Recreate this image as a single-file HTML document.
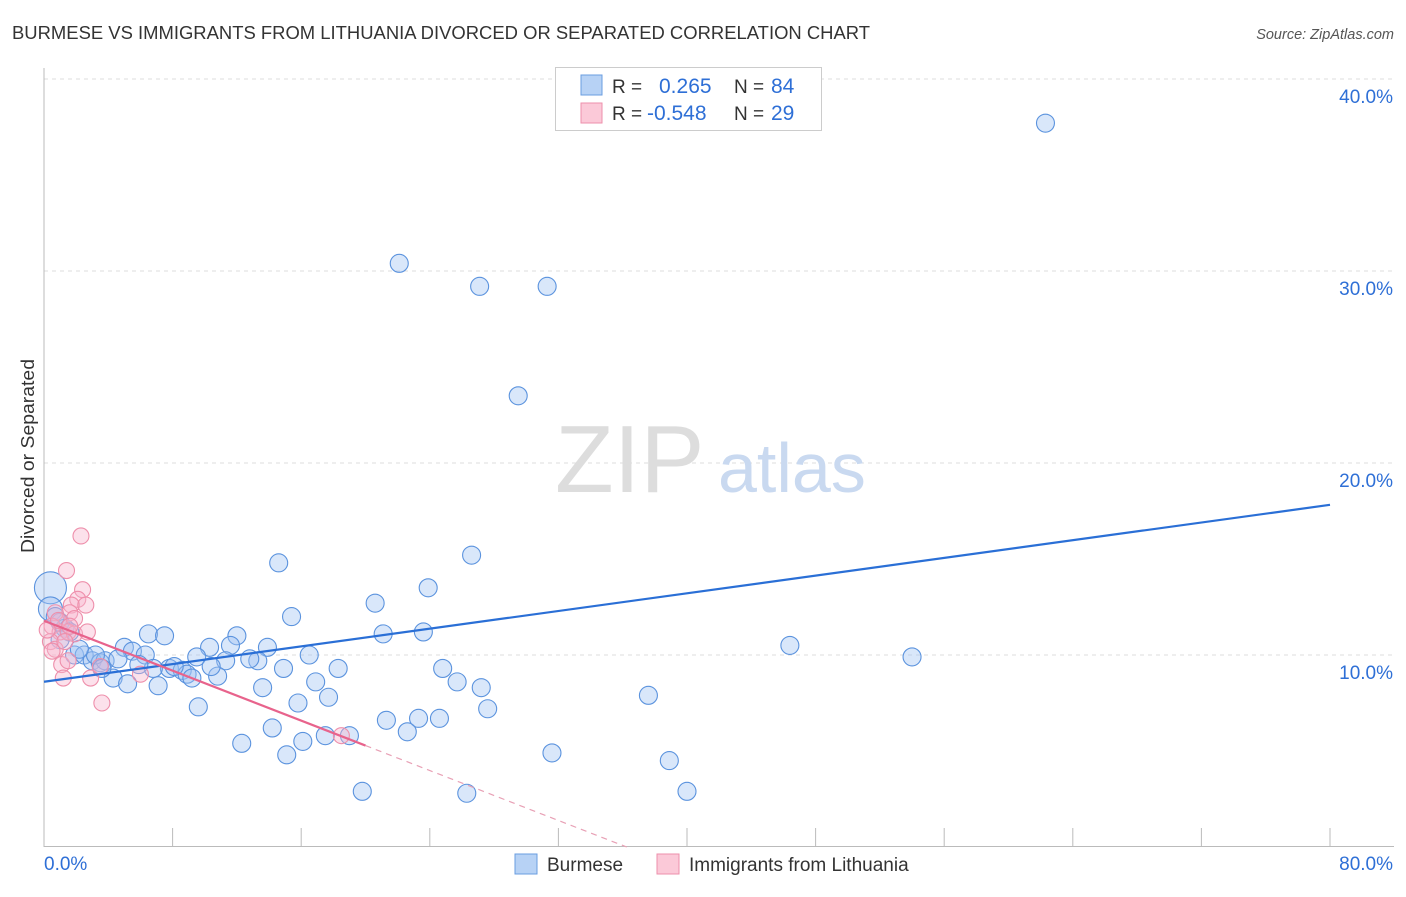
<!DOCTYPE html>
<html><head><meta charset="utf-8"><style>
body{margin:0;background:#fff;font-family:"Liberation Sans",sans-serif;}
svg text{font-family:"Liberation Sans",sans-serif;}
</style></head><body>
<svg id="chart" width="1406" height="892">
<text x="12" y="39" font-size="18" fill="#333" textLength="858" lengthAdjust="spacingAndGlyphs">BURMESE VS IMMIGRANTS FROM LITHUANIA DIVORCED OR SEPARATED CORRELATION CHART</text>
<text x="1394" y="39" font-size="14.5" fill="#555" font-style="italic" text-anchor="end">Source: ZipAtlas.com</text>
<text x="34" y="456" font-size="18" fill="#333" transform="rotate(-90 34 456)" text-anchor="middle" textLength="194" lengthAdjust="spacingAndGlyphs">Divorced or Separated</text>
<g id="grid"></g>
<g id="axes"></g>
<text x="555" y="492" font-size="96" fill="#ddd" font-family="Liberation Serif">ZIP</text>
<text x="718" y="492" font-size="70" fill="#c9d9f0">atlas</text>
<g id="pts"></g>
<g id="lines"></g>
<g>
<rect x="555.5" y="67.5" width="266" height="63" fill="#fff" stroke="#ccc"/>
<rect x="581" y="75" width="21" height="20" fill="#b7d2f5" stroke="#6a9de0"/>
<rect x="581" y="103" width="21" height="20" fill="#fbc9d8" stroke="#ee8fab"/>
<text x="612" y="93" font-size="19" fill="#333">R =</text>
<text x="659" y="93" font-size="21" fill="#2e6fd6">0.265</text>
<text x="734" y="93" font-size="19" fill="#333">N =</text>
<text x="771" y="93" font-size="21" fill="#2e6fd6">84</text>
<text x="612" y="120" font-size="19" fill="#333">R =</text>
<text x="647" y="120" font-size="21" fill="#2e6fd6">-0.548</text>
<text x="734" y="120" font-size="19" fill="#333">N =</text>
<text x="771" y="120" font-size="21" fill="#2e6fd6">29</text>
</g>
<g>
<rect x="515" y="854" width="22" height="20" fill="#b7d2f5" stroke="#6a9de0"/>
<text x="547" y="871" font-size="19" fill="#333">Burmese</text>
<rect x="657" y="854" width="22" height="20" fill="#fbc9d8" stroke="#ee8fab"/>
<text x="689" y="871" font-size="19" fill="#333">Immigrants from Lithuania</text>
</g>
</svg>
<script>
const yTicks=[10,20,30,40];
const yTickLabels=["10.0%","20.0%","30.0%","40.0%"];
const xTickLabels=["0.0%","80.0%"];
const blueX=[62.3,22.1,27.1,31.3,29.5,26.6,14.6,23.9,15.4,20.6,21.1,23.6,46.4,54.0,6.5,7.5,12.0,10.3,13.9,11.6,5.0,5.5,6.3,16.5,13.3,11.3,12.8,9.5,24.8,18.3,14.9,7.8,8.6,8.9,9.2,10.8,10.4,6.8,4.3,5.2,7.1,13.6,16.9,25.7,27.2,17.7,15.8,27.6,37.6,9.6,23.3,24.6,21.3,22.6,14.2,17.5,19.0,12.3,16.1,15.1,31.6,38.9,19.8,26.3,40.0,0.4,0.4,1.0,1.3,1.6,1.9,2.5,3.0,3.5,3.8,4.6,3.2,2.2,1.0,3.6,5.9,8.1,0.7];
const blueY=[37.7,30.4,29.2,29.2,23.5,15.2,14.8,13.5,12.0,12.7,11.1,11.2,10.5,9.9,11.1,11.0,11.0,10.4,10.4,10.5,10.4,10.2,10.0,10.0,9.7,9.7,9.8,9.9,9.3,9.3,9.3,9.3,9.2,9.0,8.8,8.9,9.4,9.3,8.8,8.5,8.4,8.3,8.6,8.6,8.3,7.8,7.5,7.2,7.9,7.3,6.7,6.7,6.6,6.0,6.2,5.8,5.8,5.4,5.5,4.8,4.9,4.5,2.9,2.8,2.9,13.5,12.4,11.7,11.4,11.2,10.0,10.0,9.7,9.6,9.7,9.8,10.0,10.3,10.8,9.3,9.5,9.4,12.0];
const pinkX=[2.3,1.4,2.4,2.1,1.7,1.6,0.7,1.9,0.5,1.0,1.5,0.4,0.7,1.9,1.1,1.5,2.9,1.2,3.6,18.5,6.0,3.5,0.9,0.2,2.6,1.3,1.6,2.7,0.5];
const pinkY=[16.2,14.4,13.4,12.9,12.6,12.2,12.2,11.9,11.5,11.2,11.2,10.7,10.3,11.1,9.5,9.7,8.8,8.8,7.5,5.8,9.0,9.4,11.8,11.3,12.6,10.7,11.5,11.2,10.2];
const X=v=>44+v/80*1286, Y=v=>847-v/40*768;
const NS="http://www.w3.org/2000/svg";
function mk(tag,attrs,parent){const e=document.createElementNS(NS,tag);for(const k in attrs)e.setAttribute(k,attrs[k]);parent.appendChild(e);return e;}
const grid=document.getElementById('grid'),axes=document.getElementById('axes');
yTicks.forEach((t,i)=>{
 const l=mk('line',{x1:44,x2:1394,y1:Y(t),y2:Y(t),stroke:'#ddd','stroke-dasharray':'4,4'},grid);
 
 
 const tx=mk('text',{x:1393,y:Y(t)+24,'font-size':19,fill:'#2e6fd6','text-anchor':'end'},axes);
 tx.textContent=yTickLabels[i];
 
 
});
mk('line',{x1:44,x2:44,y1:68,y2:847,stroke:'#bbb'},axes);
mk('line',{x1:44,x2:1394,y1:846.5,y2:846.5,stroke:'#bbb'},axes);
for(let i=0;i<=10;i++){const x=X(i*8);mk('line',{x1:x,x2:x,y1:828,y2:847,stroke:'#bbb'},axes);}
const xl0=mk('text',{x:44,y:870,'font-size':19,fill:'#2e6fd6'},axes);xl0.textContent=xTickLabels[0];


const xl1=mk('text',{x:1393,y:870,'font-size':19,fill:'#2e6fd6','text-anchor':'end'},axes);xl1.textContent=xTickLabels[1];


const pts=document.getElementById('pts');
blueX.forEach((v,i)=>{
 const r=i===65?16:(i===66?12:9);
 const c=mk('circle',{cx:X(v),cy:Y(blueY[i]),r:r,fill:'rgba(160,196,242,0.4)',stroke:'#5b93de','stroke-width':1.1},pts);
 
 
});
pinkX.forEach((v,i)=>{
 const c=mk('circle',{cx:X(v),cy:Y(pinkY[i]),r:8,fill:'rgba(248,180,204,0.4)',stroke:'#ee8fab','stroke-width':1.1},pts);
 
 
});
function fit(xs,ys){const n=xs.length;const mx=xs.reduce((a,b)=>a+b)/n,my=ys.reduce((a,b)=>a+b)/n;let sxy=0,sxx=0;xs.forEach((x,i)=>{sxy+=(x-mx)*(ys[i]-my);sxx+=(x-mx)**2;});const b=sxy/sxx;return [my-b*mx,b];}
const lines=document.getElementById('lines');
const [ba,bb]=fit(blueX,blueY);
const bl=mk('line',{x1:X(0),y1:Y(ba),x2:X(80),y2:Y(ba+bb*80),stroke:'#2a6fd6','stroke-width':2.2},lines);


const [pa,pb]=fit(pinkX,pinkY);
const pend=20;
const pl=mk('line',{x1:X(0),y1:Y(pa),x2:X(pend),y2:Y(pa+pb*pend),stroke:'#e8638c','stroke-width':2.2},lines);


const xz=Math.min(80,-pa/pb);
const pd=mk('line',{x1:X(pend),y1:Y(pa+pb*pend),x2:X(xz),y2:Y(pa+pb*xz),stroke:'#e8a0b5','stroke-width':1.2,'stroke-dasharray':'6,5'},lines);


</script>
</body></html>
